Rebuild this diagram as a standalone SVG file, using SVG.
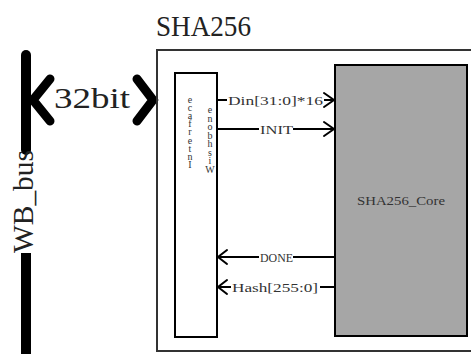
<svg xmlns="http://www.w3.org/2000/svg" width="471" height="354" viewBox="0 0 471 354">
<style>
text{font-family:'Liberation Serif','Times New Roman',serif;fill:#222}
.big{font-size:29px}
.sm{font-size:13px;fill:#333}
.vt{font-size:10px;fill:#333;text-anchor:middle}
.ln{stroke:#000;stroke-width:2;fill:none}
.ah{stroke:#000;stroke-width:2;fill:none;stroke-linecap:round;stroke-linejoin:miter}
</style>
<rect width="471" height="354" fill="#fff"/>
<g id="bus">
<line x1="26" y1="55" x2="26" y2="150" stroke="#000" stroke-width="10" stroke-linecap="round"/>
<line x1="26" y1="253" x2="26" y2="360" stroke="#000" stroke-width="10"/>
<text class="big" transform="translate(33,253) rotate(-90)" textLength="103" lengthAdjust="spacingAndGlyphs">WB_bus</text>
</g>
<g id="buslink">
<polyline points="50,79 33,100 50,121" stroke="#000" stroke-width="9" fill="none" stroke-linecap="round" stroke-linejoin="miter"/>
<polyline points="137,79 153,100 137,121" stroke="#000" stroke-width="9" fill="none" stroke-linecap="round" stroke-linejoin="miter"/>
<text class="big" x="54" y="108" textLength="76" lengthAdjust="spacingAndGlyphs">32bit</text>
</g>
<g id="sha256">
<rect x="157" y="50" width="330" height="301" fill="none" stroke="#333" stroke-width="2"/>
<text class="big" x="156" y="36" textLength="95" lengthAdjust="spacingAndGlyphs">SHA256</text>
</g>
<g id="interface">
<rect x="175" y="73" width="42" height="264" fill="#fff" stroke="#000" stroke-width="2"/>
<text class="vt"><tspan x="190" y="103">e</tspan><tspan x="190" y="111">c</tspan><tspan x="190" y="119">a</tspan><tspan x="190" y="127">f</tspan><tspan x="190" y="135">r</tspan><tspan x="190" y="144">e</tspan><tspan x="190" y="152">t</tspan><tspan x="190" y="160">n</tspan><tspan x="190" y="168">I</tspan></text>
<text class="vt"><tspan x="210" y="113">e</tspan><tspan x="210" y="122">n</tspan><tspan x="210" y="130">o</tspan><tspan x="210" y="139">b</tspan><tspan x="210" y="147">h</tspan><tspan x="210" y="156">s</tspan><tspan x="210" y="164">i</tspan><tspan x="210" y="173">W</tspan></text>
</g>
<g id="core">
<rect x="335" y="65" width="132" height="271" fill="#a6a6a6" stroke="#000" stroke-width="2"/>
<text class="sm" x="401" y="205" text-anchor="middle" textLength="88" lengthAdjust="spacingAndGlyphs">SHA256_Core</text>
</g>
<g id="connectors">
<line class="ln" x1="217" y1="100" x2="227" y2="100"/>
<line class="ln" x1="324" y1="100" x2="334" y2="100"/>
<polyline class="ah" points="324,93 334,100 324,107"/>
<text class="sm" x="228" y="105" textLength="95" lengthAdjust="spacingAndGlyphs">Din[31:0]*16</text>
<line class="ln" x1="217" y1="129" x2="259" y2="129"/>
<line class="ln" x1="293" y1="129" x2="334" y2="129"/>
<polyline class="ah" points="324,122 334,129 324,136"/>
<text class="sm" x="260" y="134" textLength="33" lengthAdjust="spacingAndGlyphs">INIT</text>
<line class="ln" x1="218" y1="257" x2="259" y2="257"/>
<line class="ln" x1="293" y1="257" x2="335" y2="257"/>
<polyline class="ah" points="227,250 218,257 227,264"/>
<text class="sm" x="260" y="262" textLength="33" lengthAdjust="spacingAndGlyphs">DONE</text>
<line class="ln" x1="218" y1="287" x2="231" y2="287"/>
<line class="ln" x1="320" y1="287" x2="335" y2="287"/>
<polyline class="ah" points="227,280 218,287 227,294"/>
<text class="sm" x="232" y="292" textLength="86" lengthAdjust="spacingAndGlyphs">Hash[255:0]</text>
</g>
</svg>
